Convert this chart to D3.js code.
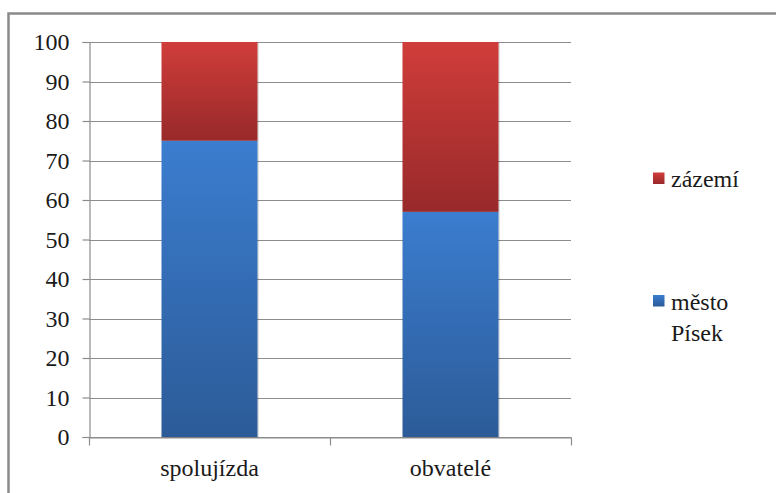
<!DOCTYPE html>
<html>
<head>
<script src="https://cdn.jsdelivr.net/npm/d3@7"></script>
</head>
<body style="margin:0;background:#fff">
<svg id="fig" width="776" height="493" style="display:block"></svg>
<script>
// Shares (%) per category, stacked bottom to top
const categories = ["spolujízda", "obvatelé"];
const mestoPisek = [75, 57];
const zazemi = [25, 43];
const seriesNames = ["město Písek", "zázemí"];
const yTicks = [0, 10, 20, 30, 40, 50, 60, 70, 80, 90, 100];

const TEXT_COLOR = "#1a1a1a";
const svg = d3.select("#fig");
const W = 776, H = 493;
const plot = { left: 89, right: 571, top: 42, bottom: 437 };

// Outer chart frame (runs past the right/bottom edge)
svg.append("rect")
  .attr("x", 8.5).attr("y", 13.5)
  .attr("width", W + 20).attr("height", H + 20)
  .attr("fill", "#fff").attr("stroke", "#8a8a8a").attr("stroke-width", 2.5);

const x = d3.scaleBand().domain(categories).range([plot.left, plot.right]).paddingInner(0).paddingOuter(0);
const y = d3.scaleLinear().domain([0, 100]).range([plot.bottom, plot.top]);

// Gradients: lighter at the top of each segment, darker at the bottom
const defs = svg.append("defs");
function grad(id, top, bottom) {
  const g = defs.append("linearGradient").attr("id", id).attr("x1", 0).attr("y1", 0).attr("x2", 0).attr("y2", 1);
  g.append("stop").attr("offset", "0%").attr("stop-color", top);
  g.append("stop").attr("offset", "100%").attr("stop-color", bottom);
}
grad("gBlue", "#3b7dcf", "#2c5b98");
grad("gRed", "#d03d3a", "#98292a");

// Gridlines
svg.append("g").selectAll("line").data(yTicks).join("line")
  .attr("x1", plot.left).attr("x2", plot.right)
  .attr("y1", d => Math.round(y(d)) + 0.5).attr("y2", d => Math.round(y(d)) + 0.5)
  .attr("stroke", "#8c8c8c").attr("stroke-width", 1.2);

function styleText(sel) {
  sel.attr("font-family", "Liberation Serif")
     .style("font-family", "'Liberation Serif', serif", "important")
     .attr("font-size", 24).style("fill", TEXT_COLOR);
}

// Y axis
const yAxis = svg.append("g").attr("transform", `translate(${plot.left + 0.5},0)`)
  .call(d3.axisLeft(y).tickValues(yTicks).tickSize(7).tickPadding(13).tickFormat(d3.format("d")));
yAxis.attr("font-family", "Liberation Serif");
yAxis.select(".domain").attr("stroke", "#8c8c8c").attr("stroke-width", 1.2);
yAxis.selectAll(".tick line").attr("stroke", "#8c8c8c").attr("stroke-width", 1.2);
styleText(yAxis.selectAll("text"));

// Stacked bars
const barW = 96;
const stackData = categories.map((c, i) => ({ cat: c, m: mestoPisek[i], z: zazemi[i] }));
const bars = svg.append("g");
// soft edge on the right/bottom of each bar
bars.selectAll(".edge").data(stackData).join("rect")
  .attr("x", d => x(d.cat) + x.bandwidth() / 2 - barW / 2 + 1.5)
  .attr("width", barW)
  .attr("y", d => y(d.m + d.z) + 1).attr("height", d => y(0) - y(d.m + d.z))
  .attr("fill", "#000").attr("opacity", 0.12);
bars.selectAll(".blue").data(stackData).join("rect")
  .attr("x", d => x(d.cat) + x.bandwidth() / 2 - barW / 2)
  .attr("width", barW)
  .attr("y", d => y(d.m)).attr("height", d => y(0) - y(d.m))
  .attr("fill", "url(#gBlue)");
bars.selectAll(".red").data(stackData).join("rect")
  .attr("x", d => x(d.cat) + x.bandwidth() / 2 - barW / 2)
  .attr("width", barW)
  .attr("y", d => y(d.m + d.z)).attr("height", d => y(d.m) - y(d.m + d.z))
  .attr("fill", "url(#gRed)");

// X axis
const xAxis = svg.append("g").attr("transform", `translate(0,${Math.round(y(0)) + 0.5})`)
  .call(d3.axisBottom(x).tickSize(0).tickPadding(21));
xAxis.attr("font-family", "Liberation Serif");
xAxis.select(".domain").attr("stroke", "#8c8c8c").attr("stroke-width", 1.2);
styleText(xAxis.selectAll("text"));
// Category separators
const seps = [plot.left, plot.left + x.bandwidth(), plot.right];
xAxis.selectAll(".sep").data(seps).join("line")
  .attr("x1", d => d + 0.5).attr("x2", d => d + 0.5).attr("y1", 0).attr("y2", 8)
  .attr("stroke", "#8c8c8c").attr("stroke-width", 1.2);

// Legend
const legend = svg.append("g").attr("font-family", "Liberation Serif");
const legendItems = [
  { name: seriesNames[1], fill: "url(#gRed)", y: 172.5, lines: ["zázemí"] },
  { name: seriesNames[0], fill: "url(#gBlue)", y: 295, lines: ["město", "Písek"] }
];
legendItems.forEach(it => {
  legend.append("rect").attr("x", 653).attr("y", it.y).attr("width", 11.5).attr("height", 11.5).attr("fill", it.fill);
  const t = legend.append("text").attr("x", 671).attr("y", it.y + 14.5);
  styleText(t);
  it.lines.forEach((l, i) => t.append("tspan").attr("x", 671).attr("dy", i === 0 ? 0 : 31.5).text(l));
});
</script>
</body>
</html>
